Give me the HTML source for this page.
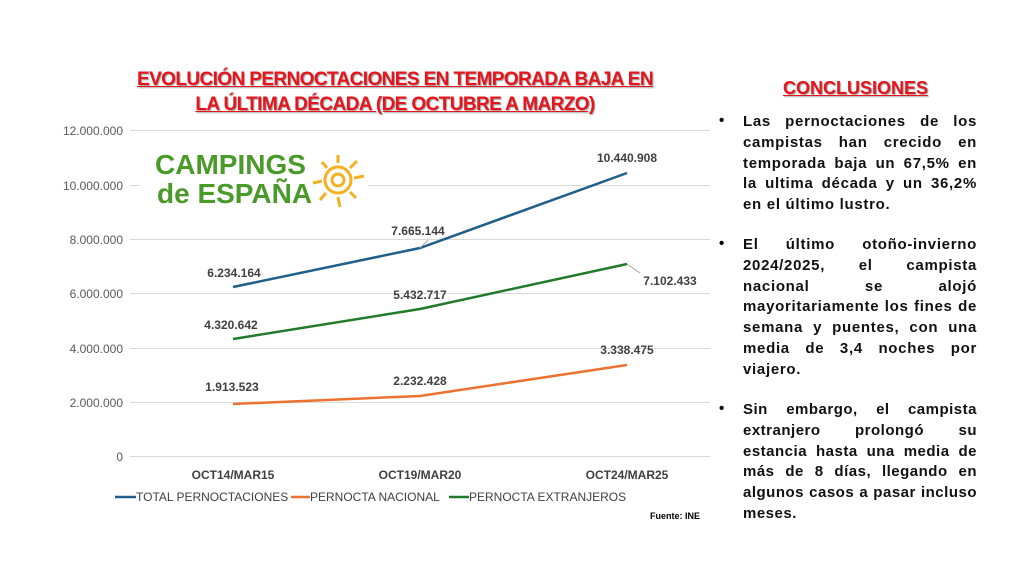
<!DOCTYPE html>
<html><head><meta charset="utf-8"><style>
body{margin:0;width:1024px;height:576px;background:#fff;overflow:hidden;font-family:"Liberation Sans",sans-serif;position:relative}
.t{position:absolute;left:110px;top:67px;width:570px;text-align:center;color:#e8141c;font-weight:bold;font-size:19px;line-height:25px;text-decoration:underline;letter-spacing:-0.6px;text-shadow:1px 1px 1px #999}
.c{position:absolute;left:783px;top:78px;color:#e8141c;font-weight:bold;font-size:18px;text-decoration:underline;text-shadow:1px 1px 1px #999}
.r{position:absolute;left:743px;width:234px;font-weight:bold;font-size:15px;line-height:20.8px;text-align:justify;text-align-last:left;color:#111;letter-spacing:0.7px}
.b{position:absolute;left:719px;font-size:15px;font-weight:bold}
</style></head><body>
<div class="t">EVOLUCIÓN PERNOCTACIONES EN TEMPORADA BAJA EN<br>LA ÚLTIMA DÉCADA (DE OCTUBRE A MARZO)</div>
<div class="c">CONCLUSIONES</div>
<div class="b" style="top:112px">•</div>
<div class="r" style="top:112px">Las pernoctaciones de los campistas han crecido en temporada baja un 67,5% en la ultima década y un 36,2% en el último lustro.</div>
<div class="b" style="top:235px">•</div>
<div class="r" style="top:235px">El último otoño-invierno 2024/2025, el campista nacional se alojó mayoritariamente los fines de semana y puentes, con una media de 3,4 noches por viajero.</div>
<div class="b" style="top:400px">•</div>
<div class="r" style="top:400px;letter-spacing:0.5px">Sin embargo, el campista extranjero prolongó su estancia hasta una media de más de 8 días, llegando en algunos casos a pasar incluso meses.</div>
<svg width="1024" height="576" style="position:absolute;left:0;top:0">
<g stroke="#d9d9d9" stroke-width="1">
<line x1="130" x2="710" y1="130.5" y2="130.5"/><line x1="130" x2="710" y1="185.5" y2="185.5"/>
<line x1="130" x2="710" y1="239.5" y2="239.5"/><line x1="130" x2="710" y1="293.5" y2="293.5"/>
<line x1="130" x2="710" y1="348.5" y2="348.5"/><line x1="130" x2="710" y1="402.5" y2="402.5"/>
<line x1="130" x2="710" y1="456.5" y2="456.5"/></g>
<rect x="140" y="138" width="228" height="70" fill="#fff"/>
<g font-size="12" fill="#595959" text-anchor="end">
<text x="123" y="135">12.000.000</text><text x="123" y="190">10.000.000</text>
<text x="123" y="244">8.000.000</text><text x="123" y="298">6.000.000</text>
<text x="123" y="353">4.000.000</text><text x="123" y="407">2.000.000</text><text x="123" y="461">0</text></g>
<g font-weight="bold" fill="#4a9a2a">
<text x="155" y="174" font-size="28">CAMPINGS</text>
<text x="157" y="203" font-size="28">de ESPAÑA</text></g>
<g stroke="#f4b122" stroke-width="3" fill="none"><circle cx="338" cy="180" r="13"/><circle cx="338" cy="180" r="6"/>
<line x1="338" y1="155" x2="338" y2="163"/><line x1="338" y1="197" x2="340" y2="207"/><line x1="313" y1="183" x2="322" y2="181"/><line x1="354" y1="178" x2="364" y2="176"/><line x1="322" y1="162" x2="327" y2="168"/><line x1="350" y1="168" x2="357" y2="161"/><line x1="326" y1="193" x2="320" y2="200"/><line x1="350" y1="192" x2="356" y2="198"/></g>
<polyline points="233,287 420,248 627,173" fill="none" stroke="#1f5f8b" stroke-width="2.5"/>
<polyline points="233,339 420,309 627,264" fill="none" stroke="#217a2a" stroke-width="2.5"/>
<polyline points="233,404 420,396 627,365" fill="none" stroke="#ed7230" stroke-width="2.5"/>
<g stroke="#a6a6a6"><line x1="420" y1="248" x2="428" y2="240"/><line x1="627" y1="264" x2="640" y2="273"/></g>
<g font-size="12" font-weight="bold" fill="#404040" text-anchor="middle">
<text x="234" y="277">6.234.164</text><text x="418" y="235">7.665.144</text><text x="627" y="162">10.440.908</text>
<text x="231" y="329">4.320.642</text><text x="420" y="299">5.432.717</text><text x="670" y="285">7.102.433</text>
<text x="232" y="391">1.913.523</text><text x="420" y="385">2.232.428</text><text x="627" y="354">3.338.475</text>
<text x="233" y="479">OCT14/MAR15</text><text x="420" y="479">OCT19/MAR20</text><text x="627" y="479">OCT24/MAR25</text></g>
<g font-size="12" fill="#404040">
<line x1="115" x2="136" y1="497" y2="497" stroke="#1f5f8b" stroke-width="2.5"/><text x="136" y="501">TOTAL PERNOCTACIONES</text>
<line x1="291" x2="310" y1="497" y2="497" stroke="#ed7230" stroke-width="2.5"/><text x="310" y="501">PERNOCTA NACIONAL</text>
<line x1="449" x2="469" y1="497" y2="497" stroke="#217a2a" stroke-width="2.5"/><text x="469" y="501">PERNOCTA EXTRANJEROS</text>
<text x="650" y="519" font-size="9" font-weight="bold" fill="#000">Fuente: INE</text></g>
</svg>
</body></html>
